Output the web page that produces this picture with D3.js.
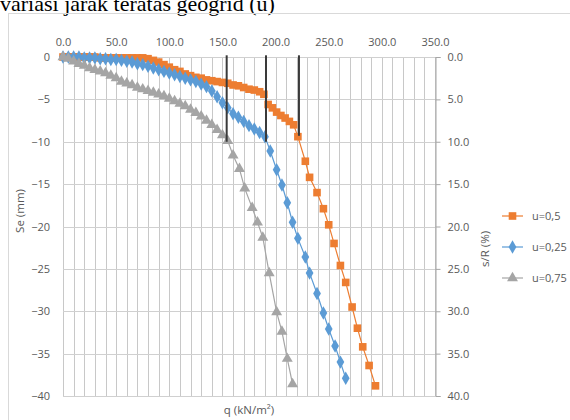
<!DOCTYPE html>
<html><head><meta charset="utf-8">
<script src="https://cdn.jsdelivr.net/npm/d3@7"></script>
<style>
html,body{margin:0;padding:0;background:#fff;}
svg{display:block;}
</style></head>
<body><svg id="c" width="570" height="420"></svg>
<script>
// ---- data ----
const titleText = "variasi jarak teratas geogrid (u)";
const xTicks = [0, 50, 100, 150, 200, 250, 300, 350];
const yTicks = [0, -5, -10, -15, -20, -25, -30, -35, -40];
const rTicks = [0, 5, 10, 15, 20, 25, 30, 35, 40];
const seriesNames = ["u=0,5", "u=0,25", "u=0,75"];

const qU05 = [0,5,10,15,20,25,30,35,40,45,50,55,60,65,70,75,80,85,90,95,100,105,110,115,120,125,130,135,140,145,150,155,160,165,170,175,180,185,189,193,197,201,205,209,213,217,221,228,232,239,245,250,255,261,266,272,277,282,288,294];
const seU05 = [0,0,0,0,0,0,0,-0.1,-0.1,-0.1,-0.1,-0.1,-0.1,-0.1,-0.1,-0.1,-0.2,-0.4,-0.6,-0.9,-1.2,-1.5,-1.7,-2.0,-2.2,-2.4,-2.5,-2.7,-2.8,-2.9,-3.0,-3.1,-3.3,-3.4,-3.6,-3.8,-3.9,-4.1,-4.4,-5.6,-6.0,-6.5,-6.9,-7.2,-7.6,-8.0,-9.4,-12.3,-14.2,-16.0,-17.9,-19.8,-22.0,-24.6,-26.6,-29.5,-32.0,-34.2,-36.4,-38.8];

const qU025 = [0,5,10,15,20,25,30,35,40,45,50,55,60,65,70,75,80,85,90,95,100,105,110,115,120,125,130,135,140,145,150,155,160,165,170,175,180,185,190,195,201,206,211,216,221,228,232,239,245,250,256,261,266];
const seU025 = [0,0,0,0,-0.1,-0.1,-0.1,-0.2,-0.2,-0.3,-0.3,-0.4,-0.5,-0.6,-0.8,-0.9,-1.1,-1.3,-1.5,-1.7,-1.9,-2.1,-2.3,-2.5,-2.7,-2.9,-3.2,-3.5,-4.0,-4.7,-5.4,-6.0,-6.7,-7.1,-7.6,-8.1,-8.5,-8.9,-9.4,-11.1,-13.3,-15.1,-17.2,-19.5,-21.4,-23.6,-25.5,-27.9,-30.2,-32.1,-34.1,-36.0,-37.9];

const qU075 = [0,5,10,15,20,25,30,35,40,45,50,55,60,65,70,75,80,85,90,95,100,105,110,115,120,125,130,135,140,145,150,155,160,166,171,178,183,188,194,201,206,211,216];
const seU075 = [0,-0.2,-0.5,-0.8,-1.0,-1.3,-1.5,-1.7,-1.9,-2.2,-2.5,-2.9,-3.1,-3.3,-3.6,-3.8,-4.0,-4.2,-4.4,-4.6,-4.9,-5.2,-5.5,-5.8,-6.2,-6.6,-7.0,-7.5,-8.0,-8.6,-9.2,-9.9,-11.6,-13.2,-15.5,-17.8,-19.5,-21.3,-25.5,-30.1,-32.4,-35.6,-38.6];

// vertical reference lines (q, top Se, bottom Se)
const refQ = [154, 191, 222];
const refTop = [0.2, 0.2, 0.2];
const refBottom = [-10.0, -10.0, -9.3];

// ---- drawing ----
const svg = d3.select("#c");
const font = "'Open Sans', 'Noto Sans', sans-serif";
const txt = "#595959";
const colors = ["#ED7D31", "#5B9BD5", "#A5A5A5"];
const symbols = [d3.symbolSquare, d3.symbolDiamond, d3.symbolTriangle];
const symSize = [58, 52, 52];

const x = d3.scaleLinear().domain([0, 350]).range([63, 435]);
const y = d3.scaleLinear().domain([0, -40]).range([57, 396]);
const yR = d3.scaleLinear().domain([0, 40]).range([57, 396]);

// title
svg.append("text").attr("x", 0).attr("y", 11)
  .attr("font-family", "'Liberation Serif', 'Times New Roman', serif")
  .attr("font-size", 22).attr("fill", "#000").text(titleText);

// chart border
svg.append("rect").attr("x", 8.5).attr("y", 13.5).attr("width", 600).attr("height", 500)
  .attr("fill", "none").attr("stroke", "#d9d9d9");

// grid
const g = svg.append("g");
g.selectAll(".vg").data(d3.range(0, 351, 10)).enter().append("line")
  .attr("x1", d => Math.round(x(d)) + 0.5).attr("x2", d => Math.round(x(d)) + 0.5)
  .attr("y1", y(0)).attr("y2", y(-40))
  .attr("stroke", "#c8c8c8").attr("stroke-width", 1);
g.selectAll(".hg").data(yTicks).enter().append("line")
  .attr("x1", x(0)).attr("x2", x(350))
  .attr("y1", d => Math.round(y(d)) + 0.5).attr("y2", d => Math.round(y(d)) + 0.5)
  .attr("stroke", "#d0d0d0").attr("stroke-width", 1);

// top axis
const topAx = svg.append("g").attr("transform", `translate(0,${y(0)})`)
  .call(d3.axisTop(x).tickValues(xTicks).tickFormat(d3.format(".1f")).tickSize(0).tickPadding(11));
topAx.select(".domain").remove();

// left axis
const leftAx = svg.append("g").attr("transform", `translate(${x(0)},0)`)
  .call(d3.axisLeft(y).tickValues(yTicks).tickFormat(d3.format("d")).tickSize(0).tickPadding(13));
leftAx.select(".domain").remove();

// right axis
const rightAx = svg.append("g").attr("transform", `translate(${Math.round(x(350)) + 0.5},0)`)
  .call(d3.axisRight(yR).tickValues(rTicks).tickFormat(d3.format(".1f")).tickSize(5).tickPadding(7));
rightAx.select(".domain").attr("stroke", "#a6a6a6");
rightAx.selectAll(".tick line").attr("stroke", "#a6a6a6");

svg.selectAll(".tick text").attr("font-family", font).attr("font-size", 11).attr("fill", txt);

// axis titles
svg.append("text").attr("transform", "translate(24,211) rotate(-90)")
  .attr("text-anchor", "middle").attr("font-family", font).attr("font-size", 11.5)
  .attr("fill", txt).text("Se (mm)");
svg.append("text").attr("transform", "translate(489,249) rotate(-90)")
  .attr("text-anchor", "middle").attr("font-family", font).attr("font-size", 11.5)
  .attr("fill", txt).text("s/R (%)");
svg.append("text").attr("x", 249).attr("y", 414)
  .attr("text-anchor", "middle").attr("font-family", font).attr("font-size", 11.5)
  .attr("fill", txt).text("q (kN/m²)");

// series
const series = [
  {q: qU05, s: seU05},
  {q: qU025, s: seU025},
  {q: qU075, s: seU075}
];
const line = d3.line().x(d => x(d[0])).y(d => y(d[1]));
series.forEach((sr, i) => {
  const pts = sr.q.map((q, k) => [q, sr.s[k]]);
  const gs = svg.append("g");
  gs.append("path").datum(pts).attr("d", line).attr("fill", "none")
    .attr("stroke", colors[i]).attr("stroke-width", 1.2);
  gs.selectAll("path.m").data(pts).enter().append("path").attr("class", "m")
    .attr("transform", d => `translate(${x(d[0])},${y(d[1])})`)
    .attr("d", d3.symbol().type(symbols[i]).size(symSize[i]))
    .attr("fill", colors[i]);
});

// reference lines
svg.selectAll(".ref").data(refQ).enter().append("line")
  .attr("x1", d => x(d)).attr("x2", d => x(d))
  .attr("y1", (d, i) => y(refTop[i])).attr("y2", (d, i) => y(refBottom[i]))
  .attr("stroke", "#3a3a3a").attr("stroke-width", 2);

// legend
const legY = [216, 247, 278];
seriesNames.forEach((n, i) => {
  svg.append("line").attr("x1", 502).attr("x2", 523).attr("y1", legY[i]).attr("y2", legY[i])
    .attr("stroke", colors[i]).attr("stroke-width", 1.2);
  svg.append("path").attr("transform", `translate(512.5,${legY[i]})`)
    .attr("d", d3.symbol().type(symbols[i]).size(symSize[i])).attr("fill", colors[i]);
  svg.append("text").attr("x", 532).attr("y", legY[i]).attr("dy", "0.35em")
    .attr("font-family", font).attr("font-size", 11).attr("fill", txt).text(n);
});
</script></body></html>
